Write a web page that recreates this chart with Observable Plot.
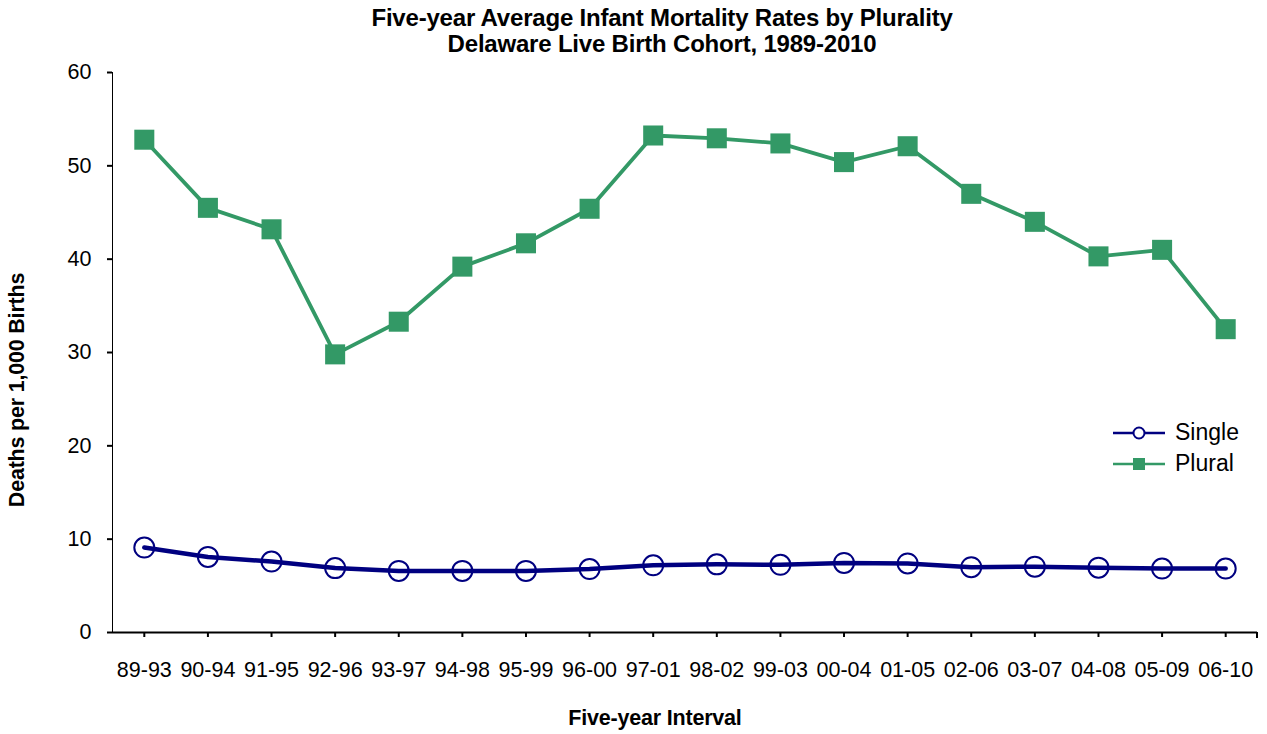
<!DOCTYPE html>
<html>
<head>
<meta charset="utf-8">
<script src="https://cdn.jsdelivr.net/npm/d3@7"></script>
<script src="https://cdn.jsdelivr.net/npm/@observablehq/plot@0.6"></script>
<style>
  html, body { margin: 0; padding: 0; background: #fff; overflow: hidden; }
  body { width: 1267px; height: 734px; position: relative; font-family: "Liberation Sans", Arial, sans-serif; color: #000; }
  #title { width: 1324px; height: 40px; text-align: center; font-weight: bold; font-size: 24px; line-height: 26px; padding-top: 5px; box-sizing: border-box; letter-spacing: -0.2px; position: relative; z-index: 2; }
  #chart { position: absolute; left: 0; top: 40px; z-index: 1; }
  .axtitle { position: absolute; font-weight: bold; font-size: 21.5px; white-space: nowrap; transform: translate(-50%, -50%); letter-spacing: -0.2px; z-index: 2; }
  #ytitle { left: 17px; top: 390px; transform: translate(-50%, -50%) rotate(-90deg); }
  #xtitle { left: 655px; top: 718px; }
  #legend { position: absolute; left: 1113px; top: 417px; font-size: 23px; z-index: 2; }
  #legend .row { display: flex; align-items: center; height: 31px; }
  #legend svg { margin-right: 10px; }
</style>
</head>
<body>
<div id="title">Five-year Average Infant Mortality Rates by Plurality<br>Delaware Live Birth Cohort, 1989-2010</div>
<div id="chart"></div>
<div id="ytitle" class="axtitle">Deaths per 1,000 Births</div>
<div id="xtitle" class="axtitle">Five-year Interval</div>
<div id="legend"></div>
<script>
const intervals = ["89-93","90-94","91-95","92-96","93-97","94-98","95-99","96-00","97-01","98-02","99-03","00-04","01-05","02-06","03-07","04-08","05-09","06-10"];
const singleRates = [9.1, 8.1, 7.6, 6.9, 6.6, 6.6, 6.6, 6.8, 7.2, 7.3, 7.25, 7.45, 7.4, 7.0, 7.05, 6.95, 6.85, 6.85];
const pluralRates = [52.8, 45.5, 43.2, 29.8, 33.3, 39.2, 41.7, 45.4, 53.25, 52.95, 52.4, 50.4, 52.1, 47.0, 44.0, 40.3, 41.0, 32.5];
const yTicks = [0, 10, 20, 30, 40, 50, 60];
const seriesNames = ["Single", "Plural"];
const seriesColors = ["#000080", "#339966"];

const singleData = intervals.map((k, i) => ({interval: k, value: singleRates[i]}));
const pluralData = intervals.map((k, i) => ({interval: k, value: pluralRates[i]}));

const chart = Plot.plot({
  width: 1267,
  height: 694,
  marginTop: 32,
  marginBottom: 102,
  marginLeft: 112,
  marginRight: 10,
  style: {fontFamily: "'Liberation Sans', Arial, sans-serif", fontSize: "21.5px", color: "#000", background: "none"},
  x: {type: "point", domain: intervals, padding: 0.5, round: false, label: null, tickSize: 5, tickPadding: 24},
  y: {domain: [0, 60], ticks: yTicks, label: null, tickSize: 5, tickPadding: 16, line: true, tickFormat: d => d},
  marks: [
    Plot.ruleY([0], {stroke: "#000", strokeWidth: 2}),
    Plot.line(pluralData, {x: "interval", y: "value", stroke: seriesColors[1], strokeWidth: 3.8}),
    Plot.dot(pluralData, {x: "interval", y: "value", symbol: "square", r: 11.3, fill: seriesColors[1], stroke: "none"}),
    Plot.line(singleData, {x: "interval", y: "value", stroke: seriesColors[0], strokeWidth: 4.5}),
    Plot.dot(singleData, {x: "interval", y: "value", symbol: "circle", r: 10, fill: "none", stroke: seriesColors[0], strokeWidth: 2})
  ]
});
document.getElementById("chart").appendChild(chart);

// right-end boundary tick of the category axis, from the library's x scale
const xs = chart.scale("x");
const svg = d3.select(chart);
const y0 = chart.scale("y").apply(0);
svg.append("line").attr("x1", xs.range[1]).attr("x2", xs.range[1]).attr("y1", y0).attr("y2", y0 + 6).attr("stroke", "#000").attr("stroke-width", 2);
svg.selectAll("[aria-label='y-axis line'], [aria-label='y-axis tick'], [aria-label='x-axis tick']").attr("stroke-width", 2);

// legend
const legend = d3.select("#legend");
seriesNames.forEach((name, i) => {
  const row = legend.append("div").attr("class", "row");
  const s = row.append("svg").attr("width", 52).attr("height", 20);
  s.append("line").attr("x1", 0).attr("x2", 52).attr("y1", 10).attr("y2", 10).attr("stroke", seriesColors[i]).attr("stroke-width", 2.5);
  if (i === 0) s.append("circle").attr("cx", 26).attr("cy", 10).attr("r", 5.5).attr("fill", "#fff").attr("stroke", seriesColors[i]).attr("stroke-width", 2);
  else s.append("rect").attr("x", 20).attr("y", 4).attr("width", 12).attr("height", 12).attr("fill", seriesColors[i]);
  row.append("span").text(name);
});
</script>
</body>
</html>
